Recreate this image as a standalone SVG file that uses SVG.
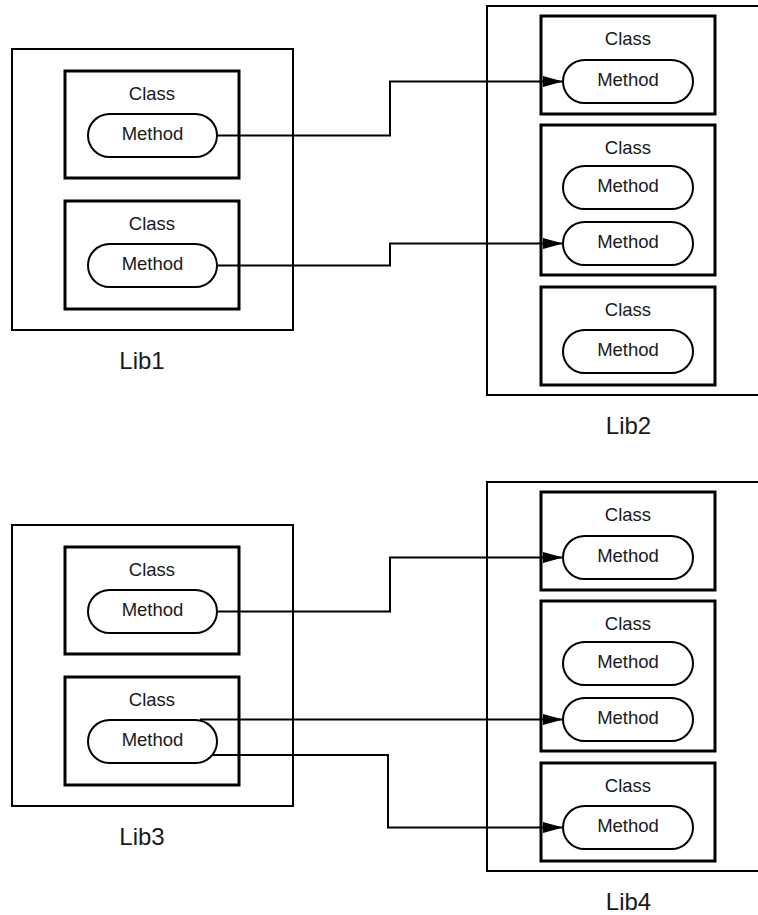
<svg xmlns="http://www.w3.org/2000/svg" width="758" height="915" viewBox="0 0 758 915">
  <style>
    .lib { fill: #fff; stroke: #000; stroke-width: 2; }
    .cls { fill: #fff; stroke: #000; stroke-width: 3; }
    .mth { fill: #fff; stroke: #000; stroke-width: 2; }
    .t { font-family: "Liberation Sans", Arial, sans-serif; font-size: 18.5px; fill: #1a1a1a; text-anchor: middle; }
    .lbl { font-family: "Liberation Sans", Arial, sans-serif; font-size: 24px; fill: #1a1a1a; text-anchor: middle; }
    .wire { fill: none; stroke: #000; stroke-width: 2; }
  </style>
  <defs>
    <marker id="arrow" markerUnits="userSpaceOnUse" markerWidth="20" markerHeight="11" refX="20" refY="5.5" orient="auto">
      <path d="M0,0 L20,5.5 L0,11 Z" fill="#000"/>
    </marker>
  </defs>
  <rect width="758" height="915" fill="#fff"/>

  <!-- Lib1 -->
  <g id="lib1">
    <rect class="lib" x="12" y="49" width="281" height="281"/>
    <text class="lbl" x="142" y="369">Lib1</text>
    <g id="lib1-class1">
      <rect class="cls" x="65" y="71" width="174" height="107"/>
      <text class="t" x="152" y="99.5">Class</text>
      <rect class="mth" x="88" y="114" width="129" height="43" rx="21.5"/>
      <text class="t" x="152.5" y="139.5">Method</text>
    </g>
    <g id="lib1-class2">
      <rect class="cls" x="65" y="201" width="174" height="108"/>
      <text class="t" x="152" y="229.5">Class</text>
      <rect class="mth" x="88" y="244" width="129" height="43" rx="21.5"/>
      <text class="t" x="152.5" y="269.5">Method</text>
    </g>
  </g>

  <!-- Lib2 -->
  <g id="lib2">
    <rect class="lib" x="487" y="6" width="300" height="389"/>
    <text class="lbl" x="628.5" y="434">Lib2</text>
    <g id="lib2-class1">
      <rect class="cls" x="541" y="16" width="174" height="98"/>
      <text class="t" x="628" y="44.5">Class</text>
      <rect class="mth" x="563" y="60" width="130" height="43" rx="21.5"/>
      <text class="t" x="628" y="85.5">Method</text>
    </g>
    <g id="lib2-class2">
      <rect class="cls" x="541" y="125" width="174" height="150"/>
      <text class="t" x="628" y="153.5">Class</text>
      <rect class="mth" x="563" y="166" width="130" height="43" rx="21.5"/>
      <text class="t" x="628" y="191.5">Method</text>
      <rect class="mth" x="563" y="222" width="130" height="43" rx="21.5"/>
      <text class="t" x="628" y="247.5">Method</text>
    </g>
    <g id="lib2-class3">
      <rect class="cls" x="541" y="287" width="174" height="98"/>
      <text class="t" x="628" y="315.5">Class</text>
      <rect class="mth" x="563" y="330" width="130" height="43" rx="21.5"/>
      <text class="t" x="628" y="355.5">Method</text>
    </g>
  </g>

  <!-- Lib3 -->
  <g id="lib3">
    <rect class="lib" x="12" y="525" width="281" height="281"/>
    <text class="lbl" x="142" y="845">Lib3</text>
    <g id="lib3-class1">
      <rect class="cls" x="65" y="547" width="174" height="107"/>
      <text class="t" x="152" y="575.5">Class</text>
      <rect class="mth" x="88" y="590" width="129" height="43" rx="21.5"/>
      <text class="t" x="152.5" y="615.5">Method</text>
    </g>
    <g id="lib3-class2">
      <rect class="cls" x="65" y="677" width="174" height="108"/>
      <text class="t" x="152" y="705.5">Class</text>
      <rect class="mth" x="88" y="720" width="129" height="43" rx="21.5"/>
      <text class="t" x="152.5" y="745.5">Method</text>
    </g>
  </g>

  <!-- Lib4 -->
  <g id="lib4">
    <rect class="lib" x="487" y="482" width="300" height="389"/>
    <text class="lbl" x="628.5" y="910">Lib4</text>
    <g id="lib4-class1">
      <rect class="cls" x="541" y="492" width="174" height="98"/>
      <text class="t" x="628" y="520.5">Class</text>
      <rect class="mth" x="563" y="536" width="130" height="43" rx="21.5"/>
      <text class="t" x="628" y="561.5">Method</text>
    </g>
    <g id="lib4-class2">
      <rect class="cls" x="541" y="601" width="174" height="150"/>
      <text class="t" x="628" y="629.5">Class</text>
      <rect class="mth" x="563" y="642" width="130" height="43" rx="21.5"/>
      <text class="t" x="628" y="667.5">Method</text>
      <rect class="mth" x="563" y="698" width="130" height="43" rx="21.5"/>
      <text class="t" x="628" y="723.5">Method</text>
    </g>
    <g id="lib4-class3">
      <rect class="cls" x="541" y="763" width="174" height="98"/>
      <text class="t" x="628" y="791.5">Class</text>
      <rect class="mth" x="563" y="806" width="130" height="43" rx="21.5"/>
      <text class="t" x="628" y="831.5">Method</text>
    </g>
  </g>

  <!-- call connectors -->
  <g id="connectors">
    <path class="wire" d="M217,135.5 H390 V81.5 H563" marker-end="url(#arrow)"/>
    <path class="wire" d="M217,265.5 H390 V243.5 H563" marker-end="url(#arrow)"/>
    <path class="wire" d="M217,611.5 H390 V557.5 H563" marker-end="url(#arrow)"/>
    <path class="wire" d="M200,719.5 H563" marker-end="url(#arrow)"/>
    <path class="wire" d="M213,755 H388 V827.5 H563" marker-end="url(#arrow)"/>
  </g>
</svg>
